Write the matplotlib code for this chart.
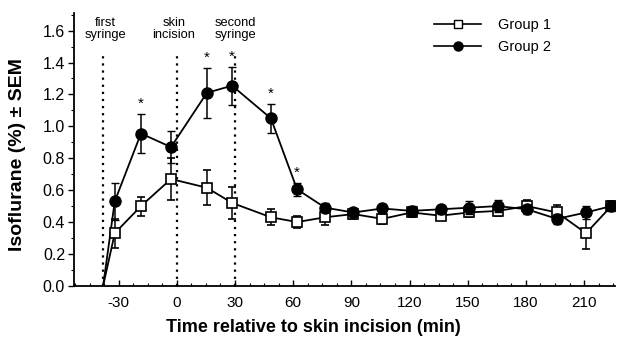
import matplotlib
matplotlib.use("Agg")
import matplotlib.pyplot as plt
from matplotlib.ticker import MultipleLocator
from matplotlib.lines import Line2D

plt.rcParams['font.family'] = ['Liberation Sans', 'DejaVu Sans']

# Data
time = [-38, -32, -18.5, -3, 15.5, 28.5, 48.5, 62, 76.5, 91, 106, 121, 136, 150.5, 165.5, 180.5, 196, 211, 224]
g1_mean = [0.0, 0.33, 0.50, 0.67, 0.615, 0.52, 0.43, 0.40, 0.43, 0.45, 0.42, 0.46, 0.44, 0.46, 0.47, 0.50, 0.46, 0.33, 0.50]
g1_sem = [0.0, 0.09, 0.06, 0.13, 0.11, 0.10, 0.05, 0.035, 0.05, 0.03, 0.03, 0.03, 0.03, 0.03, 0.03, 0.04, 0.05, 0.10, 0.03]
g2_mean = [0.0, 0.53, 0.955, 0.87, 1.21, 1.255, 1.05, 0.605, 0.49, 0.46, 0.485, 0.47, 0.48, 0.49, 0.50, 0.48, 0.42, 0.46, 0.50]
g2_sem = [0.0, 0.115, 0.12, 0.10, 0.155, 0.12, 0.09, 0.04, 0.03, 0.03, 0.03, 0.03, 0.03, 0.04, 0.04, 0.03, 0.03, 0.04, 0.03]
star_times = [-18.5, 15.5, 28.5, 48.5, 62]
event_times = [-38, 0, 30]
event_labels = ["first\nsyringe", "skin\nincision", "second\nsyringe"]
xticks = [-30, 0, 30, 60, 90, 120, 150, 180, 210]
yticks = [0.0, 0.2, 0.4, 0.6, 0.8, 1.0, 1.2, 1.4, 1.6]

fig = plt.figure(figsize=(6.17, 3.44), dpi=100)
ax = fig.add_axes([0.12, 0.169, 0.877, 0.793])

for t in event_times:
    ax.plot([t, t], [0, 1.46], linestyle=(0, (1, 2.2)), color='black', lw=1.6, zorder=1)

label_x = [-37, -1.5, 30]
for x, lab in zip(label_x, event_labels):
    ax.text(x, 1.685, lab, ha='center', va='top', fontsize=9.3, linespacing=0.95)

# lines
ax.plot(time, g1_mean, color='black', lw=1.3, zorder=3)
ax.plot(time, g2_mean, color='black', lw=1.3, zorder=3)
# markers + error bars (skip the starting point at baseline)
ax.errorbar(time[1:], g1_mean[1:], yerr=g1_sem[1:], fmt='s', color='black', markersize=7.5,
            markerfacecolor='white', markeredgecolor='black', markeredgewidth=1.2,
            capsize=3, elinewidth=1.1, zorder=4)
ax.errorbar(time[1:], g2_mean[1:], yerr=g2_sem[1:], fmt='o', color='black', markersize=8,
            markerfacecolor='black', capsize=3, elinewidth=1.1, zorder=5)

for t in star_times:
    i = time.index(t)
    ax.text(t, g2_mean[i] + g2_sem[i] + 0.02, '*', ha='center', va='bottom', fontsize=11)

ax.set_xlim(-53, 226)
ax.set_ylim(0, 1.71)
ax.set_xticks(xticks)
ax.set_xticklabels([str(v) for v in xticks])
ax.set_yticks(yticks)
ax.set_yticklabels([f"{v:.1f}" for v in yticks])
ax.xaxis.set_minor_locator(MultipleLocator(7.5))
ax.yaxis.set_minor_locator(MultipleLocator(0.1))
ax.tick_params(axis='x', direction='in', length=4, width=1, labelsize=11, pad=7)
ax.tick_params(axis='x', which='minor', direction='in', length=2.5, width=0.8)
ax.tick_params(axis='y', direction='out', length=4, width=1, labelsize=11.5, pad=2.5)
ax.tick_params(axis='y', which='minor', direction='out', length=2.5, width=0.8)
for s in ['top', 'right']:
    ax.spines[s].set_visible(False)
ax.spines['left'].set_linewidth(1.3)
ax.spines['bottom'].set_linewidth(1.3)

ax.set_ylabel('Isoflurane (%) ± SEM', fontsize=14, fontweight='bold')
ax.yaxis.set_label_coords(-0.088, 0.48)
fig.text(313 / 617, 1 - 327 / 344, 'Time relative to skin incision (min)', fontsize=13,
         fontweight='bold', ha='center', va='center')

handles = [Line2D([], [], color='black', lw=1.2, marker='s', markersize=6,
                  markerfacecolor='white', markeredgecolor='black'),
           Line2D([], [], color='black', lw=1.2, marker='o', markersize=6.5,
                  markerfacecolor='black')]
ax.legend(handles, ['Group 1', 'Group 2'], loc='upper right', bbox_to_anchor=(0.905, 1.03),
          frameon=False, fontsize=10.5, handlelength=3.2, handletextpad=1.15, labelspacing=0.55)

fig.savefig('out.png', dpi=100)
